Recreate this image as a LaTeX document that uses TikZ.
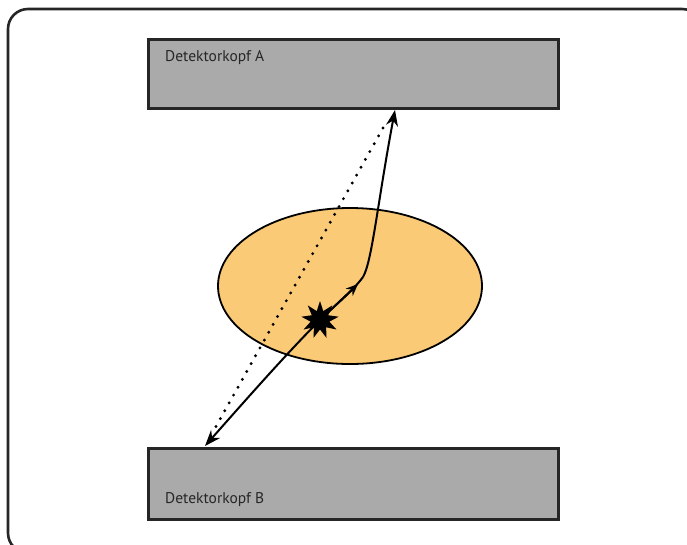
\documentclass[tikz,border=0pt]{standalone}
\usepackage{fontspec}
\setmainfont{PT Sans}
\usetikzlibrary{shapes.geometric,arrows.meta}
\definecolor{detgray}{RGB}{170,170,170}
\definecolor{bodyfill}{RGB}{250,202,118}
\begin{document}
\begin{tikzpicture}[x=1pt,y=-1pt,
  detbox/.style={draw=black!85,line width=2.6pt,fill=detgray},
  lbl/.style={font=\fontsize{15.5}{18}\selectfont,anchor=west,inner sep=0pt,text=black!85},
  ray/.style={line width=2pt,-{Stealth[length=16pt,width=12pt]}},
  dotray/.style={line width=3.2pt,dash pattern=on 0pt off 9pt,line cap=round}]
\useasboundingbox (0,0) rectangle (687,544);
\draw[line width=2.6pt,rounded corners=20pt,draw=black!85] (8,9) rectangle (702,553);
\node[detbox,minimum width=410pt,minimum height=69pt,anchor=north west,inner sep=0pt] (A) at (147,38) {};
\node[detbox,minimum width=410pt,minimum height=71pt,anchor=north west,inner sep=0pt] (B) at (147,447) {};
\node[lbl] (la) at (165,58) {Detektorkopf A};
\node[lbl] (lb) at (165,500) {Detektorkopf B};
\node[draw,line width=1.8pt,fill=bodyfill,ellipse,minimum width=264pt,minimum height=156pt,inner sep=0pt] (E) at (350,286) {};
\coordinate (S) at (320,320);
\coordinate (K) at (363,277);
\coordinate (TA) at (395,110);
\coordinate (TB) at (205,446);
\draw[dotray] (383,128) -- (214,430);
\draw[ray] (S) .. controls (290,350) and (250,395) .. (TB);
\draw[line width=2pt] (S) .. controls (335,305) and (352,292) .. (K);
\draw[line width=2pt,-{Stealth[length=12pt,width=10pt]}] (S) -- (358,284);
\draw[ray] (K) .. controls (372,262) and (378,200) .. (TA);
\node[star,star points=9,star point ratio=2.0,fill=black,minimum size=38pt,inner sep=0pt] (st) at (S) {};
\end{tikzpicture}
\end{document}
